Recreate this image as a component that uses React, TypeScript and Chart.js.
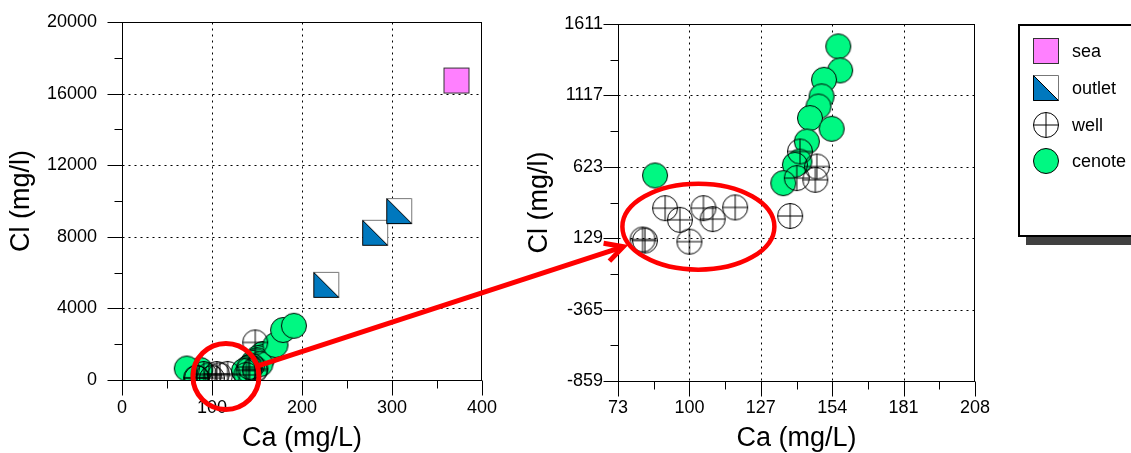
import React, { useEffect, useMemo, useRef } from 'react';
import { Chart, registerables } from 'chart.js';

Chart.register(...registerables);

// ---------------- data ----------------
const seaCa = [371.6];
const seaCl = [16730];

const outletCa = [227, 281.3, 308];
const outletCl = [5316, 8226, 9435];

const wellCa = [82.3, 83.2, 90.8, 96.4, 100, 105.3, 108.8, 117.3, 138.1, 141.8, 140.6, 148.2, 147.6, 148];
const wellCl = [120, 113, 337, 256, 105, 337, 261, 342, 283, 729, 545, 625, 533, 2100];

const cenoteCa = [156.3, 157, 150.9, 150, 148.8, 145.6, 153.8, 144.4, 141.6, 139.9, 135.5, 87, 72, 170.5, 179, 191];
const cenoteCl = [1456, 1290, 1225, 1110, 1040, 960, 886, 798, 659, 637, 510, 563, 640, 1955, 2790, 3030];

const legendLabels = ['sea', 'outlet', 'well', 'cenote'];

const leftXMajor = [0, 100, 200, 300, 400];
const leftXMinor = [50, 150, 250, 350];
const leftYMajor = [0, 4000, 8000, 12000, 16000, 20000];
const leftYMinor = [2000, 6000, 10000, 14000, 18000];

const rightXMajor = [73, 100, 127, 154, 181, 208];
const rightXMinor = [86.5, 113.5, 140.5, 167.5, 194.5];
const rightYMajor = [-859, -365, 129, 623, 1117, 1611];
const rightYMinor = [-612, -118, 376, 870, 1364];

const xTitle = 'Ca (mg/L)';
const yTitle = 'Cl (mg/l)';

// annotation anchors (data coordinates of the respective panel)
const zoomCircle = { ca: 115.5, cl: 200 };
const zoomEllipse = { ca: 103.4, cl: 209 };
const arrowTip = { ca: 75, cl: 70 };

// ---------------- styles ----------------
const FONT = "'Liberation Sans', Arial, sans-serif";
const GREEN = '#00F882';
const PINK = '#FF80FF';
const BLUE = '#0078BE';
const RED = '#FF0000';

type Pt = { x: number; y: number };
const pts = (xs: number[], ys: number[]): Pt[] => xs.map((x, i) => ({ x, y: ys[i] }));

function makeMarker(kind: string): HTMLCanvasElement {
  const c = document.createElement('canvas');
  c.width = 28;
  c.height = 28;
  const g = c.getContext('2d')!;
  const m = 14;
  g.lineWidth = 1;
  if (kind === 'cenote') {
    g.beginPath();
    g.arc(m, m, 12.5, 0, Math.PI * 2);
    g.fillStyle = GREEN;
    g.fill();
    g.strokeStyle = '#000';
    g.stroke();
  } else if (kind === 'well') {
    g.strokeStyle = '#000';
    g.beginPath();
    g.arc(m, m, 12.5, 0, Math.PI * 2);
    g.stroke();
    g.beginPath();
    g.moveTo(m - 12.5, m);
    g.lineTo(m + 12.5, m);
    g.moveTo(m, m - 12.5);
    g.lineTo(m, m + 12.5);
    g.stroke();
  } else if (kind === 'sea') {
    g.fillStyle = PINK;
    g.fillRect(1, 1, 26, 26);
    g.strokeStyle = '#333';
    g.strokeRect(1.5, 1.5, 25, 25);
  } else if (kind === 'outlet') {
    g.fillStyle = '#fff';
    g.beginPath();
    g.moveTo(1, 1);
    g.lineTo(27, 1);
    g.lineTo(27, 27);
    g.closePath();
    g.fill();
    g.fillStyle = BLUE;
    g.beginPath();
    g.moveTo(1, 1);
    g.lineTo(1, 27);
    g.lineTo(27, 27);
    g.closePath();
    g.fill();
    g.strokeStyle = '#777';
    g.beginPath();
    g.moveTo(1.5, 1.5);
    g.lineTo(26.5, 1.5);
    g.lineTo(26.5, 26.5);
    g.stroke();
    g.strokeStyle = '#000';
    g.beginPath();
    g.moveTo(1.5, 1.5);
    g.lineTo(1.5, 26.5);
    g.lineTo(26.5, 26.5);
    g.moveTo(1.5, 1.5);
    g.lineTo(26.5, 26.5);
    g.stroke();
  }
  return c;
}

function framePlugin(xMaj: number[], xMin: number[], yMaj: number[], yMin: number[]) {
  return {
    id: 'frame',
    beforeDatasetsDraw(chart: any) {
      const { ctx, chartArea: a } = chart;
      const xs = chart.scales.x;
      const ys = chart.scales.y;
      const L = Math.round(a.left) + 0.5;
      const R = Math.round(a.right) - 0.5;
      const T = Math.round(a.top) + 0.5;
      const B = Math.round(a.bottom) + 0.5;
      ctx.save();
      ctx.strokeStyle = '#000';
      ctx.lineWidth = 1;
      // dotted grid on interior major ticks
      ctx.setLineDash([2, 4]);
      ctx.beginPath();
      xMaj.slice(1, -1).forEach((v) => {
        const p = Math.round(xs.getPixelForValue(v)) + 0.5;
        ctx.moveTo(p, T);
        ctx.lineTo(p, B);
      });
      yMaj.slice(1, -1).forEach((v) => {
        const p = Math.round(ys.getPixelForValue(v)) + 0.5;
        ctx.moveTo(L, p);
        ctx.lineTo(R, p);
      });
      ctx.stroke();
      ctx.setLineDash([]);
      // frame
      ctx.strokeRect(L, T, R - L, B - T);
      // tick marks
      ctx.beginPath();
      xMaj.forEach((v) => {
        const p = Math.round(xs.getPixelForValue(v)) + 0.5;
        ctx.moveTo(p, B);
        ctx.lineTo(p, B + 15);
      });
      xMin.forEach((v) => {
        const p = Math.round(xs.getPixelForValue(v)) + 0.5;
        ctx.moveTo(p, B);
        ctx.lineTo(p, B + 8);
      });
      yMaj.forEach((v) => {
        const p = Math.round(ys.getPixelForValue(v)) + 0.5;
        ctx.moveTo(L - 15, p);
        ctx.lineTo(L, p);
      });
      yMin.forEach((v) => {
        const p = Math.round(ys.getPixelForValue(v)) + 0.5;
        ctx.moveTo(L - 8, p);
        ctx.lineTo(L, p);
      });
      ctx.stroke();
      ctx.restore();
    },
  };
}

type PanelSpec = {
  xMaj: number[];
  xMin: number[];
  yMaj: number[];
  yMin: number[];
  yWidth: number;
  xHeight: number;
  padTop: number;
  padRight: number;
  yLabelPad: number;
  xLabelPad: number;
  yTitlePad: number;
  datasets: any[];
};

function zeroPad(sc: any) {
  sc.paddingLeft = 0;
  sc.paddingRight = 0;
  sc.paddingTop = 0;
  sc.paddingBottom = 0;
}

function buildChart(canvas: HTMLCanvasElement, s: PanelSpec) {
  const tickFont = { family: FONT, size: 18 };
  const titleFont = { family: FONT, size: 27, lineHeight: 1 };
  return new Chart(canvas, {
    type: 'scatter',
    data: { datasets: s.datasets },
    options: {
      animation: false,
      responsive: false,
      devicePixelRatio: 1,
      layout: { padding: { top: s.padTop, right: s.padRight, bottom: 0, left: 0 } },
      plugins: { legend: { display: false }, tooltip: { enabled: false } },
      scales: {
        x: {
          type: 'linear',
          min: s.xMaj[0],
          max: s.xMaj[s.xMaj.length - 1],
          afterBuildTicks: (sc: any) => {
            sc.ticks = s.xMaj.map((v) => ({ value: v }));
          },
          afterFit: (sc: any) => {
            sc.height = s.xHeight;
            zeroPad(sc);
          },
          grid: { display: false, drawTicks: false },
          border: { display: false },
          ticks: {
            padding: s.xLabelPad,
            font: tickFont,
            color: '#000',
            autoSkip: false,
            maxRotation: 0,
            callback: (v: any) => String(v),
          },
          title: {
            display: true,
            text: xTitle,
            color: '#000',
            font: titleFont,
            padding: { top: 0, bottom: 0.5 },
          },
        },
        y: {
          type: 'linear',
          min: s.yMaj[0],
          max: s.yMaj[s.yMaj.length - 1],
          afterBuildTicks: (sc: any) => {
            sc.ticks = s.yMaj.map((v) => ({ value: v }));
          },
          afterFit: (sc: any) => {
            sc.width = s.yWidth;
            zeroPad(sc);
          },
          grid: { display: false, drawTicks: false },
          border: { display: false },
          ticks: {
            padding: s.yLabelPad,
            font: tickFont,
            color: '#000',
            autoSkip: false,
            callback: (v: any) => String(v),
          },
          title: {
            display: true,
            text: yTitle,
            color: '#000',
            font: titleFont,
            padding: { top: s.yTitlePad, bottom: 0 },
          },
        },
      },
    } as any,
    plugins: [framePlugin(s.xMaj, s.xMin, s.yMaj, s.yMin)],
  });
}

export default function App() {
  const leftRef = useRef<HTMLCanvasElement>(null);
  const rightRef = useRef<HTMLCanvasElement>(null);
  const overlayRef = useRef<HTMLCanvasElement>(null);

  const legendImgs = useMemo(
    () => ['sea', 'outlet', 'well', 'cenote'].map((k) => makeMarker(k).toDataURL()),
    []
  );

  useEffect(() => {
    const mk = {
      sea: makeMarker('sea'),
      outlet: makeMarker('outlet'),
      well: makeMarker('well'),
      cenote: makeMarker('cenote'),
    };
    const ds = (label: string, data: Pt[], style: HTMLCanvasElement, order: number) => ({
      label,
      data,
      pointStyle: style,
      pointRadius: 13,
      pointHoverRadius: 13,
      order,
    });

    const left = buildChart(leftRef.current!, {
      xMaj: leftXMajor,
      xMin: leftXMinor,
      yMaj: leftYMajor,
      yMin: leftYMinor,
      yWidth: 122,
      xHeight: 73,
      padTop: 22,
      padRight: 18,
      yLabelPad: 25,
      xLabelPad: 17,
      yTitlePad: 8.5,
      datasets: [
        ds('sea', pts(seaCa, seaCl), mk.sea, 0),
        ds('outlet', pts(outletCa, outletCl), mk.outlet, 1),
        ds('well', pts(wellCa, wellCl), mk.well, 2),
        ds('cenote', pts(cenoteCa, cenoteCl), mk.cenote, 3),
      ],
    });

    const rx = [rightXMajor[0], rightXMajor[rightXMajor.length - 1]];
    const ry = [rightYMajor[0], rightYMajor[rightYMajor.length - 1]];
    const inR = (p: Pt) => p.x >= rx[0] && p.x <= rx[1] && p.y >= ry[0] && p.y <= ry[1];

    const right = buildChart(rightRef.current!, {
      xMaj: rightXMajor,
      xMin: rightXMinor,
      yMaj: rightYMajor,
      yMin: rightYMinor,
      yWidth: 118,
      xHeight: 72,
      padTop: 24,
      padRight: 25,
      yLabelPad: 15,
      xLabelPad: 16,
      yTitlePad: 26.5,
      datasets: [
        ds('sea', pts(seaCa, seaCl).filter(inR), mk.sea, 0),
        ds('outlet', pts(outletCa, outletCl).filter(inR), mk.outlet, 1),
        ds('well', pts(wellCa, wellCl).filter(inR), mk.well, 2),
        ds('cenote', pts(cenoteCa, cenoteCl).filter(inR), mk.cenote, 3),
      ],
    });

    // red annotations on an overlay
    const oc = overlayRef.current!;
    const g = oc.getContext('2d')!;
    g.clearRect(0, 0, oc.width, oc.height);
    const rOff = 500;
    const cx = left.scales.x.getPixelForValue(zoomCircle.ca);
    const cy = left.scales.y.getPixelForValue(zoomCircle.cl);
    const ex = rOff + right.scales.x.getPixelForValue(zoomEllipse.ca);
    const ey = right.scales.y.getPixelForValue(zoomEllipse.cl);
    const tx = rOff + right.scales.x.getPixelForValue(arrowTip.ca);
    const ty = right.scales.y.getPixelForValue(arrowTip.cl);
    const circleR = 33;

    g.strokeStyle = RED;
    g.lineWidth = 5;
    g.beginPath();
    g.arc(cx, cy, circleR, 0, Math.PI * 2);
    g.stroke();

    g.lineWidth = 4.5;
    g.beginPath();
    g.ellipse(ex, ey, 76, 43, 0, 0, Math.PI * 2);
    g.stroke();

    const dx = tx - cx;
    const dy = ty - cy;
    const len = Math.hypot(dx, dy);
    const ux = dx / len;
    const uy = dy / len;
    const sx = cx + ux * circleR;
    const sy = cy + uy * circleR;
    g.lineWidth = 5;
    g.lineCap = 'butt';
    g.beginPath();
    g.moveTo(sx, sy);
    g.lineTo(tx - ux * 2, ty - uy * 2);
    g.stroke();
    const back = Math.atan2(-uy, -ux);
    const head = 20;
    const spread = (28 * Math.PI) / 180;
    g.lineJoin = 'miter';
    g.beginPath();
    g.moveTo(tx + Math.cos(back + spread) * head, ty + Math.sin(back + spread) * head);
    g.lineTo(tx, ty);
    g.lineTo(tx + Math.cos(back - spread) * head, ty + Math.sin(back - spread) * head);
    g.stroke();

    return () => {
      left.destroy();
      right.destroy();
    };
  }, []);

  const rowCenters = [51, 88, 125, 161];

  return (
    <div
      style={{
        position: 'absolute',
        left: 0,
        top: 0,
        width: 1131,
        height: 453,
        overflow: 'hidden',
        background: '#fff',
        fontFamily: FONT,
      }}
    >
      <canvas
        ref={leftRef}
        width={500}
        height={453}
        style={{ position: 'absolute', left: 0, top: 0, width: 500, height: 453 }}
      />
      <canvas
        ref={rightRef}
        width={500}
        height={453}
        style={{ position: 'absolute', left: 500, top: 0, width: 500, height: 453 }}
      />
      <canvas
        ref={overlayRef}
        width={1131}
        height={453}
        style={{ position: 'absolute', left: 0, top: 0, width: 1131, height: 453, pointerEvents: 'none' }}
      />
      <div
        style={{
          position: 'absolute',
          left: 1018,
          top: 24,
          width: 150,
          height: 213,
          boxSizing: 'border-box',
          border: '2px solid #000',
          background: '#fff',
          boxShadow: '8px 8px 0 #404040',
        }}
      />
      {legendLabels.map((lab, i) => (
        <React.Fragment key={lab}>
          <img
            src={legendImgs[i]}
            width={28}
            height={28}
            style={{ position: 'absolute', left: 1032, top: rowCenters[i] - 14 }}
          />
          <div
            style={{
              position: 'absolute',
              left: 1072,
              top: rowCenters[i] - 12,
              height: 24,
              lineHeight: '24px',
              fontSize: 18,
              color: '#000',
              whiteSpace: 'nowrap',
            }}
          >
            {lab}
          </div>
        </React.Fragment>
      ))}
    </div>
  );
}
